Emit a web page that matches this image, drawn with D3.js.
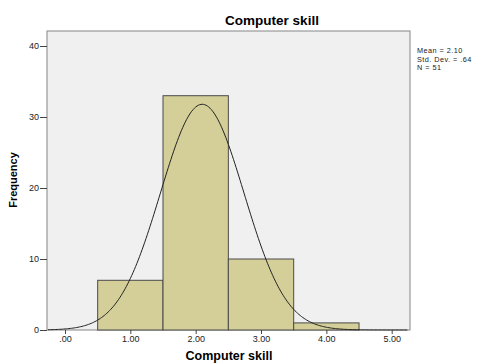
<!DOCTYPE html>
<meta charset="utf-8">
<html lang="en">
<head>
<title>Computer skill</title>
<script src="https://d3js.org/d3.v7.min.js"></script>
<style>
  body { margin: 0; background: #fff; }
  text { font-family: Arial, "Liberation Sans", sans-serif; }
</style>
</head>
<body>
<svg id="chart" width="481" height="363"></svg>
<script>
// histogram bins (lower edge, upper edge) and counts
var binLo = [0.5, 1.5, 2.5, 3.5];
var binHi = [1.5, 2.5, 3.5, 4.5];
var counts = [7, 33, 10, 1];
var xTicks = [0, 1, 2, 3, 4, 5];
var yTicks = [0, 10, 20, 30, 40];
var stats = { mean: 2.10, sd: 0.64, n: 51 };
var statLabels = ["Mean = 2.10", "Std. Dev. = .64", "N = 51"];

var svg = d3.select("#chart");
var pLeft = 47, pRight = 410, pTop = 31, pBottom = 330;

var x = d3.scaleLinear().domain([0, 5]).range([65, 391.7]);
var y = d3.scaleLinear().domain([0, 40]).range([pBottom, 46]);

// plot background
svg.append("rect")
  .attr("x", pLeft).attr("y", pTop)
  .attr("width", pRight - pLeft).attr("height", pBottom - pTop)
  .style("fill", "#f0f0f0")
  .style("stroke", "#868686")
  .style("stroke-width", 1);

// bars
svg.selectAll(".bar").data(counts).enter().append("rect")
  .attr("class", "bar")
  .attr("x", function(d, i) { return x(binLo[i]); })
  .attr("width", function(d, i) { return x(binHi[i]) - x(binLo[i]); })
  .attr("y", function(d) { return y(d); })
  .attr("height", function(d) { return pBottom - y(d); })
  .style("fill", "#d4cf99")
  .style("stroke", "#4a4a4a")
  .style("stroke-width", 1);

// normal curve from the shown mean / sd / N (bin width 1)
var pts = d3.range(-0.28, 5.26, 0.02);
var line = d3.line()
  .x(function(v) { return x(v); })
  .y(function(v) {
    var z = (v - stats.mean) / stats.sd;
    return y(stats.n * Math.exp(-0.5 * z * z) / (stats.sd * Math.sqrt(2 * Math.PI)));
  });
svg.append("path")
  .datum(pts.filter(function(v) { return x(v) >= pLeft && x(v) <= pRight; }))
  .attr("d", line)
  .style("fill", "none")
  .style("stroke", "#222")
  .style("stroke-width", 1);

// y axis
var yAxis = svg.append("g")
  .attr("transform", "translate(" + pLeft + ",0)")
  .call(d3.axisLeft(y).tickValues(yTicks).tickSize(7).tickSizeOuter(0));
yAxis.select(".domain").remove();
yAxis.selectAll("line").style("stroke", "#444");
yAxis.selectAll("text").style("font-size", "9px").style("fill", "#222").attr("x", -8);

// x axis
var xAxis = svg.append("g")
  .attr("transform", "translate(0," + pBottom + ")")
  .call(d3.axisBottom(x).tickValues(xTicks).tickSize(4).tickSizeOuter(0)
    .tickFormat(function(d) { return d === 0 ? ".00" : d3.format(".2f")(d); }));
xAxis.select(".domain").remove();
xAxis.selectAll("line").style("stroke", "#444");
xAxis.selectAll("text").style("font-size", "9px").style("fill", "#222").attr("y", 6);

// titles
svg.append("text")
  .attr("x", 272).attr("y", 25)
  .attr("text-anchor", "middle")
  .style("font-size", "13.5px").style("font-weight", "bold")
  .text("Computer skill");

svg.append("text")
  .attr("x", 229).attr("y", 360)
  .attr("text-anchor", "middle")
  .style("font-size", "12.5px").style("font-weight", "bold")
  .text("Computer skill");

svg.append("text")
  .attr("transform", "translate(17,180) rotate(-90)")
  .attr("text-anchor", "middle")
  .style("font-size", "11px").style("font-weight", "bold")
  .text("Frequency");

// stats box
svg.selectAll(".stat").data(statLabels).enter().append("text")
  .attr("class", "stat")
  .attr("x", 417)
  .attr("y", function(d, i) { return 53 + i * 8.5; })
  .style("font-size", "7.3px").style("letter-spacing", "0.45px").style("fill", "#222")
  .text(function(d) { return d; });
</script>
</body>
</html>
